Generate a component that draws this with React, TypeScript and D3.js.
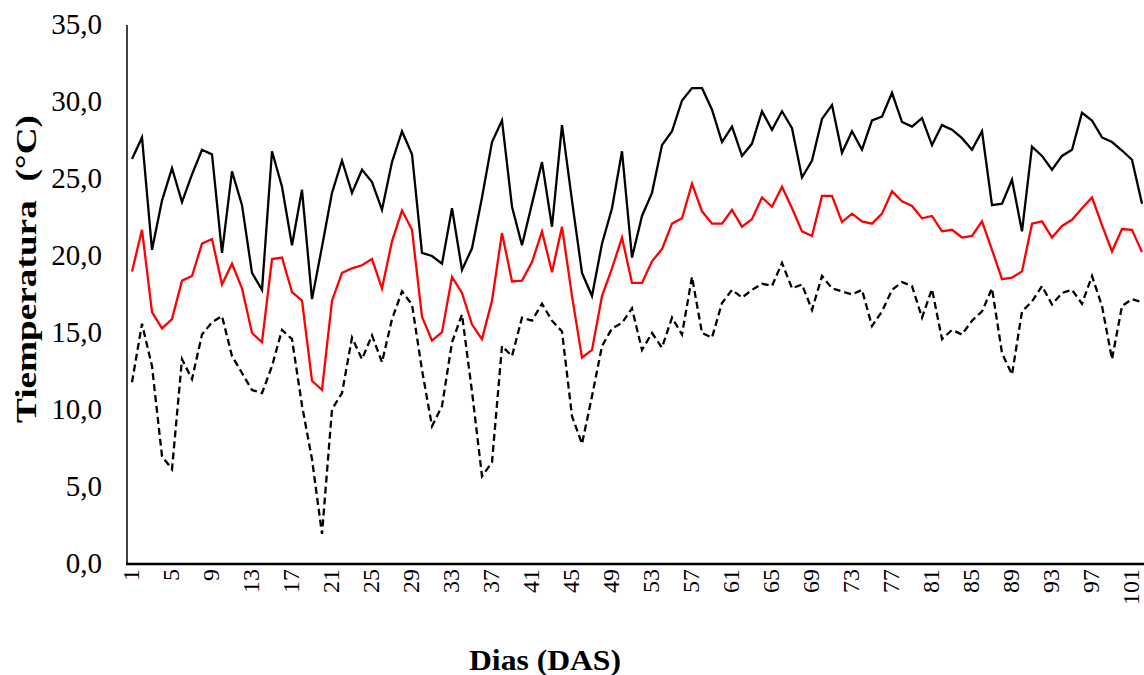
import React, { useEffect, useRef } from "react";
import * as d3 from "d3";

const days: number[] = d3.range(1, 103);

const tMax: number[] = [
  26.3, 27.7, 20.4, 23.6, 25.7, 23.5, 25.3, 26.9, 26.6, 20.2,
  25.5, 23.3, 18.9, 17.8, 26.8, 24.5, 20.7, 24.3, 17.2, 20.6,
  24.1, 26.2, 24.1, 25.6, 24.8, 23.0, 26.1, 28.1, 26.6, 20.2,
  20.0, 19.5, 23.1, 19.1, 20.5, 23.8, 27.4, 28.8, 23.2, 20.7,
  23.4, 26.1, 21.9, 28.5, 23.6, 18.9, 17.4, 20.8, 23.1, 26.8,
  19.9, 22.6, 24.1, 27.2, 28.1, 30.1, 30.9, 30.9, 29.5, 27.4,
  28.4, 26.5, 27.3, 29.4, 28.2, 29.4, 28.3, 25.1, 26.2, 28.9,
  29.8, 26.7, 28.1, 26.9, 28.8, 29.05, 30.6, 28.7, 28.4, 28.95,
  27.2, 28.5, 28.2, 27.65, 26.9, 28.1, 23.3, 23.4, 24.95, 21.6,
  27.1, 26.5, 25.6, 26.5, 26.9, 29.3, 28.8, 27.7, 27.4, 26.85,
  26.25, 23.4,
];

const tMean: number[] = [
  19.0, 21.7, 16.35, 15.3, 15.9, 18.4, 18.7, 20.8, 21.1, 18.15,
  19.5, 17.9, 15.0, 14.4, 19.8, 19.9, 17.65, 17.1, 11.9, 11.3,
  17.1, 18.9, 19.2, 19.4, 19.8, 17.9, 20.95, 22.95, 21.7, 16.05,
  14.5, 15.05, 18.65, 17.6, 15.55, 14.6, 17.1, 21.5, 18.35, 18.4,
  19.6, 21.6, 18.95, 21.9, 17.4, 13.4, 13.9, 17.4, 19.2, 21.2,
  18.25, 18.25, 19.65, 20.45, 22.1, 22.45, 24.7, 22.9, 22.1, 22.1,
  23.0, 21.9, 22.4, 23.8, 23.2, 24.5, 23.1, 21.6, 21.3, 23.9,
  23.9, 22.2, 22.75, 22.25, 22.1, 22.75, 24.2, 23.55, 23.25, 22.45,
  22.6, 21.6, 21.7, 21.2, 21.3, 22.25, 20.4, 18.5, 18.6, 19.0,
  22.1, 22.25, 21.2, 21.95, 22.35, 23.1, 23.8, 22.0, 20.3, 21.75,
  21.7, 20.25,
];

const tMin: number[] = [
  11.8, 15.6, 12.85, 7.0, 6.15, 13.3, 12.0, 14.9, 15.7, 16.1,
  13.5, 12.4, 11.3, 11.1, 12.85, 15.2, 14.6, 10.3, 6.8, 1.95,
  10.05, 11.1, 14.7, 13.3, 14.85, 13.1, 15.9, 17.7, 16.85, 12.6,
  8.95, 10.25, 14.4, 16.2, 11.2, 5.7, 6.6, 14.15, 13.5, 16.0,
  15.8, 16.9, 15.8, 15.1, 9.6, 7.8, 10.9, 14.15, 15.3, 15.65,
  16.6, 13.9, 15.0, 14.05, 16.0, 14.9, 18.65, 15.0, 14.7, 16.95,
  17.8, 17.3, 17.8, 18.2, 18.05, 19.55, 17.9, 18.15, 16.5, 18.7,
  17.9, 17.7, 17.5, 17.8, 15.45, 16.4, 17.8, 18.3, 18.05, 16.0,
  17.85, 14.6, 15.2, 14.9, 15.8, 16.4, 17.9, 13.7, 12.3, 16.4,
  17.05, 18.05, 16.85, 17.6, 17.8, 16.9, 18.7, 16.75, 13.3, 16.75,
  17.2, 17.0,
];

const yTicks: number[] = [0, 5, 10, 15, 20, 25, 30, 35];
const xTickDays: number[] = d3.range(1, 103, 4);

const yTitle = "Tiemperatura  (°C)";
const xTitle = "Dias (DAS)";

const W = 1144;
const H = 675;
const FONT = "'Liberation Serif', 'Times New Roman', serif";

export default function App() {
  const ref = useRef<SVGSVGElement>(null);

  useEffect(() => {
    document.body.style.margin = "0";
    const svg = d3.select(ref.current);
    svg.selectAll("*").remove();

    const left = 127;
    const right = 1147;
    const top = 25;
    const bottom = 564;

    const x = d3.scaleBand<number>().domain(days).range([left, right]);
    const cx = (d: number) => (x(d) as number) + x.bandwidth() / 2;
    const y = d3.scaleLinear().domain([0, 35]).range([bottom, top]);

    // y axis line
    svg.append("line")
      .attr("x1", left).attr("x2", left)
      .attr("y1", top).attr("y2", bottom)
      .attr("stroke", "#000").attr("stroke-width", 1.5);

    // y tick labels
    svg.append("g").selectAll("text").data(yTicks).join("text")
      .attr("x", 102)
      .attr("y", (d) => y(d) - 1)
      .attr("dy", "0.35em")
      .attr("text-anchor", "end")
      .attr("font-family", FONT)
      .attr("font-size", 29)
      .attr("fill", "#000")
      .text((d) => d3.format(".1f")(d).replace(".", ","));

    // x tick labels (rotated)
    svg.append("g").selectAll("text").data(xTickDays).join("text")
      .attr("transform", (d) => `translate(${cx(d) - 1},${bottom + 5}) rotate(-90)`)
      .attr("dy", "0.35em")
      .attr("text-anchor", "end")
      .attr("font-family", FONT)
      .attr("font-size", 24)
      .attr("fill", "#000")
      .text((d) => String(d));

    const line = (vals: number[]) =>
      d3.line<number>()
        .x((_, i) => cx(days[i]))
        .y((v) => y(v))(vals);

    svg.append("path").attr("d", line(tMin) as string)
      .attr("fill", "none").attr("stroke", "#000")
      .attr("stroke-width", 2.3).attr("stroke-dasharray", "7,4");

    svg.append("path").attr("d", line(tMean) as string)
      .attr("fill", "none").attr("stroke", "#ff0000")
      .attr("stroke-width", 2.3);

    svg.append("path").attr("d", line(tMax) as string)
      .attr("fill", "none").attr("stroke", "#000")
      .attr("stroke-width", 2.3);

    // x axis line
    svg.append("line")
      .attr("x1", left - 1).attr("x2", W)
      .attr("y1", bottom).attr("y2", bottom)
      .attr("stroke", "#000").attr("stroke-width", 2.5);

    // titles
    svg.append("text")
      .attr("x", 545).attr("y", 670)
      .attr("text-anchor", "middle")
      .attr("font-family", FONT)
      .attr("font-weight", "bold")
      .attr("font-size", 30)
      .attr("textLength", 152)
      .attr("lengthAdjust", "spacingAndGlyphs")
      .attr("fill", "#000")
      .text(xTitle);

    svg.append("text")
      .attr("transform", `translate(36,269) rotate(-90)`)
      .attr("text-anchor", "middle")
      .attr("font-family", FONT)
      .attr("font-weight", "bold")
      .attr("font-size", 30)
      .attr("textLength", 308)
      .attr("lengthAdjust", "spacingAndGlyphs")
      .style("white-space", "pre")
      .attr("fill", "#000")
      .text(yTitle);
  }, []);

  return (
    <svg
      ref={ref}
      width={W}
      height={H}
      style={{ position: "absolute", left: 0, top: 0, display: "block", background: "#fff" }}
    />
  );
}
